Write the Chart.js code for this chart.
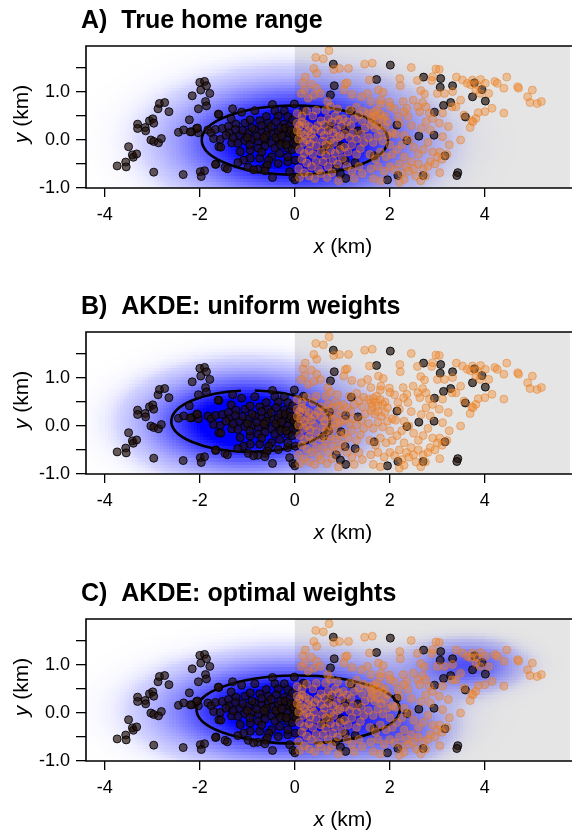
<!DOCTYPE html>
<html><head><meta charset="utf-8">
<script src="https://cdn.jsdelivr.net/npm/chart.js@4.4.1/dist/chart.umd.min.js"></script>
<style>
html,body{margin:0;padding:0;background:#fff;overflow:hidden;}
#wrap{position:relative;width:575px;height:832px;overflow:hidden;}
canvas{position:absolute;left:0;}
</style></head><body>
<div id="wrap">
<canvas id="c0" width="575" height="287" style="top:0px"></canvas>
<canvas id="c1" width="575" height="287" style="top:286px"></canvas>
<canvas id="c2" width="575" height="287" style="top:573px"></canvas>
</div>
<script>
// ---------------- data ----------------
const panelTitles = ['A)  True home range', 'B)  AKDE: uniform weights', 'C)  AKDE: optimal weights'];
const xTicks = [-4, -2, 0, 2, 4];
const yTicks = [-1, -0.5, 0, 0.5, 1, 1.5];
const yTickLabels = ['-1.0', '', '0.0', '', '1.0', ''];
const xRange = [-4.396, 5.792];
const yRange = [-1, 1.958];
const shadeFrom = 0; // grey region starts at x = 0 km

// observed locations (black)
const blackPts = [
[-3.74,-0.54],[-3.56,-0.46],[-3.55,-0.56],[-3.5,-0.14],[-3.42,-0.31],[-3.4,-0.36],[-3.33,-0.29],[-3.31,0.33],[-3.31,0.24],[-3.15,0.26],[-3.14,0.19],[-3.06,0.40],[-2.99,0.44],[-2.97,0.35],[-3.03,0.0],[-2.97,-0.03],[-2.87,-0.06],[-2.81,0.03],[-2.88,0.65],[-2.85,0.76],[-2.74,0.78],[-2.65,0.59],[-2.97,-0.67],[-2.45,0.16],[-2.34,0.21],[-2.35,-0.72],[-2.22,0.42],[-2.16,0.92],[-2.03,0.65],[-2.0,1.2],[-1.98,1.04],[-1.88,0.8],[-1.86,0.71],[-1.9,1.22],[-1.86,1.13],[-1.79,0.97],[-1.99,-0.66],[-1.97,-0.76],[-1.9,-0.64],[-2.03,0.15],[-2.17,0.17],[-2.07,0.24],
[-1.31,0.65],[-1.12,0.58],[-1.6,0.53],[-0.84,0.61],[-0.47,0.74],[-0.42,0.61],[-0.22,0.61],[-0.01,0.75],[-0.6,0.49],[-0.35,0.5],[-0.15,0.49],[-1.34,0.44],[-1.24,0.33],[-1.05,0.35],[-0.94,0.42],[-0.74,0.4],[-0.56,0.35],[-0.39,0.38],[-0.23,0.33],[-1.83,0.21],[-1.76,0.15],[-1.67,0.22],[-1.53,0.24],[-1.4,0.28],[-1.38,0.15],[-1.17,0.1],[-0.98,0.15],[-0.84,0.21],[-0.7,0.17],[-0.56,0.21],[-0.46,0.13],[-0.35,0.17],[-0.22,0.15],[-0.11,0.14],[-0.04,0.07],[-1.71,0.03],[-1.57,0.01],[-1.6,-0.14],[-1.56,-0.15],[-1.33,-0.06],[-1.2,-0.07],[-1.05,-0.01],[-0.9,0.01],[-0.77,-0.03],[-0.62,0.0],[-0.49,-0.06],[-0.35,0.0],[-0.25,-0.06],[-0.15,0.0],[-0.04,-0.07],[-1.15,-0.24],[-0.94,-0.21],[-0.77,-0.17],[-0.63,-0.13],[-0.42,-0.17],[-0.15,-0.17],[-0.32,-0.28],[-0.49,-0.35],[-0.74,-0.38],[-0.94,-0.38],[-1.08,-0.42],[-1.2,-0.47],[-1.66,-0.5],[-1.47,-0.57],[-1.42,-0.6],[-0.98,-0.57],[-0.78,-0.61],[-0.62,-0.57],[-0.55,-0.42],[-0.58,-0.52],[-0.35,-0.49],[-0.15,-0.45],[-0.11,-0.66],[-0.04,-0.78],[0.0,-0.83],[-0.47,-0.78],[-0.63,-0.64],[-0.87,-0.62],
[-0.3,0.25],[-0.5,0.28],[-0.7,0.3],[-0.9,0.25],[-1.0,0.05],[-0.8,0.08],[-0.6,0.1],[-0.4,0.05],[-0.2,0.25],[-0.1,0.3],[-0.05,-0.2],[-0.15,-0.35],[-0.3,-0.1],[-1.1,0.2],[-1.3,0.05],[-0.95,-0.1],[-0.7,-0.25],[-0.05,0.42],[-0.08,0.2],[-1.45,0.1],[-1.25,0.22],[-0.65,0.05],[-0.28,0.08],[-0.18,-0.1],[-0.02,0.12],[0.04,0.17],[0.01,-0.42],[0.18,0.62],[0.05,0.0],[0.03,-0.1],[-1.61,0.54],[-1.67,-0.51],[-2.05,0.25],[-2.2,0.17],
[0.81,1.58],[2.01,1.56],[0.75,0.94],[0.83,1.13],[1.72,1.26],[2.71,1.31],[3.07,1.28],[3.32,1.13],[3.78,1.19],[3.06,1.1],[3.94,1.05],[3.74,0.9],[4.01,0.81],[3.28,0.78],[3.13,0.72],[2.94,0.58],[3.59,0.48],[1.19,0.6],[2.15,0.31],[2.61,0.08],[2.93,0.1],[2.36,-0.01],[1.07,0.22],[1.33,0.19],[0.73,0.29],[0.97,-0.12],[0.61,-0.21],[0.71,-0.1],[3.16,-0.33],[1.67,-0.33],[1.27,-0.47],[1.06,-0.43],[0.87,-0.6],[0.96,-0.71],[1.07,-0.8],[1.95,-0.83],[2.17,-0.74],[2.7,-0.74],[3.43,-0.68],[3.41,-0.74]
];

// unobserved locations (orange)
const orangePts = [
[0.72,1.86],[0.44,1.72],[0.6,1.69],[0.82,1.47],[0.94,1.49],[1.13,1.49],[1.47,1.58],[1.63,1.6],[2.45,1.51],[0.46,1.39],[0.4,1.49],[0.22,1.31],[0.17,1.19],[0.35,1.16],[0.46,1.08],[0.54,0.97],[0.21,1.04],[0.13,0.97],[0.28,0.87],[0.4,0.93],[0.69,0.8],[1.06,1.17],[1.1,1.19],[1.03,1.04],[1.57,1.25],[1.53,0.97],[1.76,1.04],[1.86,0.99],[1.81,0.83],[1.99,0.79],[2.21,1.28],[2.22,1.13],[2.58,1.24],[2.65,1.03],[2.73,0.96],[2.88,1.24],[2.97,1.48],[3.04,1.47],[2.9,1.32],[3.0,0.97],[3.15,0.97],[3.32,1.01],[3.4,1.31],[3.53,1.25],[3.63,1.18],[3.7,1.15],[3.74,1.25],[3.84,1.15],[3.91,1.26],[4.01,1.18],[3.81,1.04],[3.9,0.97],[4.08,0.97],[4.21,1.22],[4.26,1.18],[4.4,1.08],[4.46,1.31],[4.69,1.11],[4.71,1.08],[4.9,0.9],[5.0,1.04],[4.95,0.78],[5.1,0.76],[5.19,0.8],[4.15,0.66],[4.4,0.56],[4.0,0.59],[3.86,0.57],[3.81,0.45],[3.72,0.4],[3.69,0.26],[3.75,0.38],[3.49,0.0],[3.56,0.52],[3.39,0.69],[3.49,0.83],[3.31,0.69],[3.11,0.56],[3.23,0.28],[3.11,0.07],[3.04,0.35],[2.9,0.45],[2.83,0.56],[2.76,0.69],[2.69,0.78],[2.59,0.69],[2.49,0.83],[2.36,0.66],[2.38,0.49],[2.28,0.8],[2.29,0.59],[2.17,0.49],[2.76,0.38],[2.66,0.24],[2.85,0.21],[2.63,0.59],
[0.05,0.35],[0.1,0.3],[0.15,0.38],[0.22,0.33],[0.3,0.28],[0.05,0.2],[0.12,0.15],[0.2,0.1],[0.28,0.18],[0.35,0.12],[0.42,0.22],[0.48,0.3],[0.08,0.02],[0.18,-0.05],[0.25,0.0],[0.32,-0.08],[0.4,0.02],[0.45,-0.12],[0.1,-0.2],[0.2,-0.28],[0.3,-0.22],[0.38,-0.3],[0.15,-0.4],[0.25,-0.48],[0.35,-0.55],[0.45,-0.45],[0.08,-0.6],[0.2,-0.68],[0.3,-0.75],[0.42,-0.8],[0.1,-0.78],[0.5,-0.62],[0.05,0.55],[0.15,0.5],[0.25,0.6],[0.38,0.5],[0.45,0.62],
[0.55,0.4],[0.62,0.32],[0.7,0.45],[0.78,0.38],[0.85,0.5],[0.92,0.42],[0.98,0.3],[0.55,0.18],[0.62,0.1],[0.7,0.2],[0.8,0.15],[0.88,0.22],[0.95,0.08],[0.58,-0.02],[0.65,-0.1],[0.75,0.0],[0.82,-0.05],[0.9,0.05],[0.55,-0.25],[0.65,-0.32],[0.75,-0.22],[0.85,-0.28],[0.95,-0.2],[0.6,-0.45],[0.7,-0.55],[0.8,-0.42],[0.9,-0.5],[0.55,-0.7],[0.68,-0.78],[0.78,-0.68],[0.92,-0.85],[0.65,0.62],[0.75,0.7],[0.9,0.65],
[1.02,0.45],[1.1,0.38],[1.18,0.3],[1.25,0.45],[1.35,0.52],[1.42,0.4],[1.05,0.12],[1.15,0.05],[1.22,0.15],[1.3,0.02],[1.4,0.12],[1.48,0.25],[1.05,-0.15],[1.12,-0.25],[1.2,-0.1],[1.3,-0.3],[1.38,-0.18],[1.45,-0.05],[1.1,-0.55],[1.2,-0.65],[1.35,-0.55],[1.42,-0.7],[1.25,-0.8],[1.15,0.62],[1.3,0.68],[1.45,0.6],[1.0,-0.38],
[1.55,0.55],[1.6,0.48],[1.65,0.58],[1.7,0.5],[1.75,0.42],[1.8,0.55],[1.85,0.45],[1.9,0.5],[1.6,0.32],[1.68,0.25],[1.75,0.3],[1.82,0.2],[1.9,0.28],[1.62,0.4],[1.72,0.62],[1.95,0.38],[1.55,0.05],[1.65,-0.05],[1.75,0.08],[1.85,-0.02],[1.95,0.1],[2.05,0.15],[2.12,0.12],[2.0,-0.1],[1.58,-0.3],[1.7,-0.4],[1.8,-0.25],[1.92,-0.35],[2.05,-0.3],[1.6,-0.6],[1.75,-0.55],[1.88,-0.65],[2.0,-0.55],[2.1,-0.62],[1.65,-0.8],[1.8,-0.85],[2.2,-0.5],[2.25,-0.7],[2.3,-0.82],[2.2,-0.88],[2.35,-0.55],[2.4,-0.65],[2.45,-0.45],[2.5,-0.6],[2.55,-0.75],[2.6,-0.5],[2.7,-0.6],[2.8,-0.55],[2.85,-0.45],[2.95,-0.5],[3.0,-0.35],[3.05,-0.25],[3.1,-0.4],[3.2,-0.3],[3.25,-0.1],[2.15,-0.2],[2.25,-0.1],[2.3,0.1],[2.4,0.0],[2.5,-0.15],[2.6,-0.3],[2.7,-0.2],[2.8,-0.05],[2.9,-0.25],[2.2,0.35],[2.45,0.3],[2.1,0.65],[2.0,0.7],[1.8,0.75],[1.6,0.8],[1.4,0.9],[1.2,0.95],[2.3,-0.35],[2.75,-0.75],[2.65,-0.85],[3.05,-0.68]
];

// 95% contour ellipses (km): centre, semi-axes, and gap in the contour line (degrees)
const ellipseCX = [0.0, -0.93, 0.07];
const ellipseCY = [0.0, 0.10, 0.07];
const ellipseA  = [1.96, 1.67, 2.14];
const ellipseB  = [0.72, 0.64, 0.71];
const ellipseGapFrom = [null, 87, 272];
const ellipseGapTo   = [null, 97, 279];

// density surface components per panel (km): centre, spread, weight
const densMX = [[0.0], [-1.0], [-0.15, 3.65, 2.3]];
const densMY = [[-0.03], [0.08], [0.05, 1.0, -0.45]];
const densSX = [[1.6], [1.35], [1.65, 0.75, 0.6]];
const densSY = [[0.78], [0.66], [0.66, 0.33, 0.35]];
const densW  = [[1.0], [1.0], [1.0, 0.47, 0.22]];

// ---------------- drawing ----------------
const FONT = "'Liberation Sans', Arial, Helvetica, sans-serif";

function densityAt(p, x, y) {
  let f = 0;
  for (let k = 0; k < densMX[p].length; k++) {
    const dx = (x - densMX[p][k]) / densSX[p][k];
    const dy = (y - densMY[p][k]) / densSY[p][k];
    f += densW[p][k] * Math.exp(-0.5 * (dx * dx + dy * dy));
  }
  return f;
}

const backdrop = {
  id: 'backdrop',
  beforeDatasetsDraw(chart) {
    const p = chart.options.plugins.backdrop.panel;
    const {ctx, chartArea: ca, scales: {x: sx, y: sy}} = chart;
    ctx.save();
    ctx.beginPath(); ctx.rect(ca.left, ca.top, ca.right - ca.left, ca.bottom - ca.top); ctx.clip();
    // grey region
    const g0 = sx.getPixelForValue(shadeFrom);
    ctx.fillStyle = '#e5e5e5';
    ctx.fillRect(g0, ca.top, ca.right - g0, ca.bottom - ca.top);
    // density raster
    const w = Math.ceil(ca.right - ca.left), h = Math.ceil(ca.bottom - ca.top);
    const off = document.createElement('canvas'); off.width = w; off.height = h;
    const octx = off.getContext('2d');
    const img = octx.createImageData(w, h);
    const cell = 0.065;
    for (let j = 0; j < h; j++) {
      const vy = sy.getValueForPixel(ca.top + j + 0.5);
      const qy = (Math.floor((vy - yRange[0]) / cell) + 0.5) * cell + yRange[0];
      for (let i = 0; i < w; i++) {
        const vx = sx.getValueForPixel(ca.left + i + 0.5);
        const qx = (Math.floor((vx - xRange[0]) / cell) + 0.5) * cell + xRange[0];
        const f = densityAt(p, qx, qy);
        const a = Math.min(1, 1.32 * f) * Math.min(1, f / 0.13);
        const idx = (j * w + i) * 4;
        img.data[idx] = 0; img.data[idx + 1] = 0; img.data[idx + 2] = 255;
        img.data[idx + 3] = Math.round(a * 255);
      }
    }
    octx.putImageData(img, 0, 0);
    ctx.drawImage(off, ca.left, ca.top);
    // contour ellipse
    const cx = sx.getPixelForValue(ellipseCX[p]), cy = sy.getPixelForValue(ellipseCY[p]);
    const rx = sx.getPixelForValue(ellipseCX[p] + ellipseA[p]) - cx;
    const ry = cy - sy.getPixelForValue(ellipseCY[p] + ellipseB[p]);
    ctx.strokeStyle = '#000'; ctx.lineWidth = 2.6;
    ctx.beginPath();
    if (ellipseGapFrom[p] === null) {
      ctx.ellipse(cx, cy, rx, ry, 0, 0, 2 * Math.PI);
    } else {
      // data angles are counter-clockwise; canvas angles are clockwise (y flipped)
      const rad = Math.PI / 180;
      ctx.ellipse(cx, cy, rx, ry, 0, -ellipseGapFrom[p] * rad, (360 - ellipseGapTo[p]) * rad, false);
    }
    ctx.stroke();
    ctx.restore();
  },
  afterDraw(chart) {
    const p = chart.options.plugins.backdrop.panel;
    const {ctx, chartArea: ca} = chart;
    ctx.save();
    // box
    ctx.strokeStyle = '#000'; ctx.lineWidth = 1.6;
    ctx.beginPath();
    ctx.moveTo(ca.right + 2, ca.top); ctx.lineTo(ca.left, ca.top); ctx.lineTo(ca.left, ca.bottom); ctx.lineTo(ca.right + 2, ca.bottom);
    ctx.stroke();
    // title
    ctx.fillStyle = '#000';
    ctx.font = 'bold 25px ' + FONT;
    ctx.textAlign = 'left'; ctx.textBaseline = 'alphabetic';
    ctx.fillText(panelTitles[p], 81, 28);
    // x axis title: italic x + (km)
    ctx.font = 'italic 21px ' + FONT;
    const wx = ctx.measureText('x').width;
    ctx.font = '21px ' + FONT;
    const wr = ctx.measureText(' (km)').width;
    const xc = 343, xb = 253;
    let x0 = xc - (wx + wr) / 2;
    ctx.font = 'italic 21px ' + FONT; ctx.fillText('x', x0, xb);
    ctx.font = '21px ' + FONT; ctx.fillText(' (km)', x0 + wx, xb);
    // y axis title, rotated
    ctx.translate(28, 114); ctx.rotate(-Math.PI / 2);
    ctx.font = 'italic 21px ' + FONT;
    const wy = ctx.measureText('y').width;
    x0 = -(wy + wr) / 2;
    ctx.fillText('y', x0, 0);
    ctx.font = '21px ' + FONT; ctx.fillText(' (km)', x0 + wy, 0);
    ctx.restore();
  }
};

function makeChart(p) {
  const el = document.getElementById('c' + p);
  return new Chart(el, {
    type: 'scatter',
    data: {
      datasets: [
        {
          data: orangePts.map(d => ({x: d[0], y: d[1]})),
          backgroundColor: 'rgba(240,135,40,0.42)',
          borderColor: 'rgba(230,120,30,0.45)',
          borderWidth: 1, pointRadius: 4, pointHoverRadius: 4, clip: 0
        },
        {
          data: blackPts.map(d => ({x: d[0], y: d[1]})),
          backgroundColor: 'rgba(35,18,12,0.68)',
          borderColor: 'rgba(0,0,0,0.85)',
          borderWidth: 1, pointRadius: 4, pointHoverRadius: 4, clip: 0
        }
      ]
    },
    options: {
      responsive: false, animation: false, devicePixelRatio: 1,
      events: [],
      layout: {padding: {top: 46, left: 0, right: 0, bottom: 0}},
      plugins: {legend: {display: false}, title: {display: false}, tooltip: {enabled: false}, backdrop: {panel: p}},
      scales: {
        x: {
          type: 'linear', min: xRange[0], max: xRange[1],
          afterBuildTicks: s => { s.ticks = xTicks.map(v => ({value: v})); },
          afterFit: s => { s.height = 99; },
          grid: {drawOnChartArea: false, drawTicks: true, tickLength: 9, color: '#000', lineWidth: 1.3},
          border: {display: false},
          ticks: {color: '#000', font: {family: FONT, size: 18}, padding: 7, maxRotation: 0, autoSkip: false,
                  callback: v => String(v)}
        },
        y: {
          type: 'linear', min: yRange[0], max: yRange[1],
          afterBuildTicks: s => { s.ticks = yTicks.map(v => ({value: v})); },
          afterFit: s => { s.width = 86; },
          grid: {drawOnChartArea: false, drawTicks: true, tickLength: 10, color: '#000', lineWidth: 1.3},
          border: {display: false},
          ticks: {color: '#000', font: {family: FONT, size: 18}, padding: 6, autoSkip: false,
                  callback: (v) => { const i = yTicks.indexOf(v); return i >= 0 ? yTickLabels[i] : ''; }}
        }
      }
    },
    plugins: [backdrop]
  });
}
[0, 1, 2].forEach(makeChart);
</script>
</body></html>
